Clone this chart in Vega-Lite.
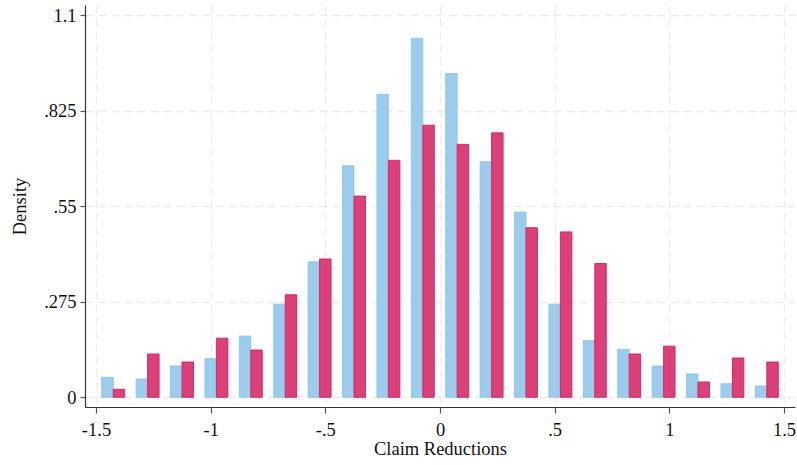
{
  "$schema": "https://vega.github.io/schema/vega-lite/v6.json",
  "width": 710,
  "height": 402,
  "autosize": {"type": "none"},
  "padding": {"left": 85, "top": 5, "right": 2, "bottom": 58},
  "background": "white",
  "config": {
    "view": {"stroke": null},
    "font": "Liberation Serif",
    "axis": {
      "labelFont": "Liberation Serif",
      "titleFont": "Liberation Serif",
      "labelFontSize": 18.5,
      "titleFontSize": 18.5,
      "labelColor": "#111111",
      "titleColor": "#111111",
      "titleFontWeight": "normal",
      "domainColor": "#333333",
      "domainWidth": 1.2,
      "tickColor": "#555555",
      "tickWidth": 1.2,
      "gridColor": "#EBEBEB",
      "gridWidth": 1.3,
      "gridDash": [8, 5]
    }
  },
  "data": {
    "values": [
      {"bin": -1.425, "series": "A", "density": 0.0575},
      {"bin": -1.425, "series": "B", "density": 0.023},
      {"bin": -1.275, "series": "A", "density": 0.0526},
      {"bin": -1.275, "series": "B", "density": 0.1246},
      {"bin": -1.125, "series": "A", "density": 0.090},
      {"bin": -1.125, "series": "B", "density": 0.1016},
      {"bin": -0.975, "series": "A", "density": 0.111},
      {"bin": -0.975, "series": "B", "density": 0.170},
      {"bin": -0.825, "series": "A", "density": 0.176},
      {"bin": -0.825, "series": "B", "density": 0.136},
      {"bin": -0.675, "series": "A", "density": 0.268},
      {"bin": -0.675, "series": "B", "density": 0.295},
      {"bin": -0.525, "series": "A", "density": 0.390},
      {"bin": -0.525, "series": "B", "density": 0.398},
      {"bin": -0.375, "series": "A", "density": 0.666},
      {"bin": -0.375, "series": "B", "density": 0.579},
      {"bin": -0.225, "series": "A", "density": 0.872},
      {"bin": -0.225, "series": "B", "density": 0.682},
      {"bin": -0.075, "series": "A", "density": 1.033},
      {"bin": -0.075, "series": "B", "density": 0.783},
      {"bin": 0.075, "series": "A", "density": 0.932},
      {"bin": 0.075, "series": "B", "density": 0.728},
      {"bin": 0.225, "series": "A", "density": 0.678},
      {"bin": 0.225, "series": "B", "density": 0.761},
      {"bin": 0.375, "series": "A", "density": 0.533},
      {"bin": 0.375, "series": "B", "density": 0.488},
      {"bin": 0.525, "series": "A", "density": 0.268},
      {"bin": 0.525, "series": "B", "density": 0.476},
      {"bin": 0.675, "series": "A", "density": 0.163},
      {"bin": 0.675, "series": "B", "density": 0.385},
      {"bin": 0.825, "series": "A", "density": 0.138},
      {"bin": 0.825, "series": "B", "density": 0.1246},
      {"bin": 0.975, "series": "A", "density": 0.090},
      {"bin": 0.975, "series": "B", "density": 0.147},
      {"bin": 1.125, "series": "A", "density": 0.067},
      {"bin": 1.125, "series": "B", "density": 0.044},
      {"bin": 1.275, "series": "A", "density": 0.039},
      {"bin": 1.275, "series": "B", "density": 0.113},
      {"bin": 1.425, "series": "A", "density": 0.0325},
      {"bin": 1.425, "series": "B", "density": 0.1016}
    ]
  },
  "transform": [
    {"calculate": "datum.series === 'A' ? datum.bin - 0.05 : datum.bin", "as": "lo"},
    {"calculate": "datum.lo + 0.05", "as": "hi"}
  ],
  "mark": {"type": "bar", "strokeWidth": 1, "strokeOpacity": 0.9},
  "encoding": {
    "x": {
      "field": "lo",
      "type": "quantitative",
      "title": "Claim Reductions",
      "scale": {"domain": [-1.548, 1.548], "nice": false, "zero": false},
      "axis": {
        "values": [-1.5, -1, -0.5, 0, 0.5, 1, 1.5],
        "labelExpr": "replace(replace(format(datum.value, '~g'), '\u2212', '-'), /^(-?)0\\./, '$1.')",
        "tickSize": 6,
        "labelPadding": 7,
        "titlePadding": 1,
        "grid": true
      }
    },
    "x2": {"field": "hi"},
    "y": {
      "field": "density",
      "type": "quantitative",
      "title": "Density",
      "scale": {"domain": [-0.028, 1.129], "nice": false, "zero": false},
      "axis": {
        "values": [0, 0.275, 0.55, 0.825, 1.1],
        "labelExpr": "replace(format(datum.value, '~g'), /^(-?)0\\./, '$1.')",
        "tickSize": 5,
        "labelPadding": 4,
        "titlePadding": 14,
        "grid": true
      }
    },
    "y2": {"datum": 0},
    "color": {
      "field": "series",
      "type": "nominal",
      "scale": {"domain": ["A", "B"], "range": ["#9BCCEC", "#DC4079"]},
      "legend": null
    },
    "stroke": {
      "field": "series",
      "type": "nominal",
      "scale": {"domain": ["A", "B"], "range": ["#8CC5EA", "#D61E62"]},
      "legend": null
    }
  }
}
